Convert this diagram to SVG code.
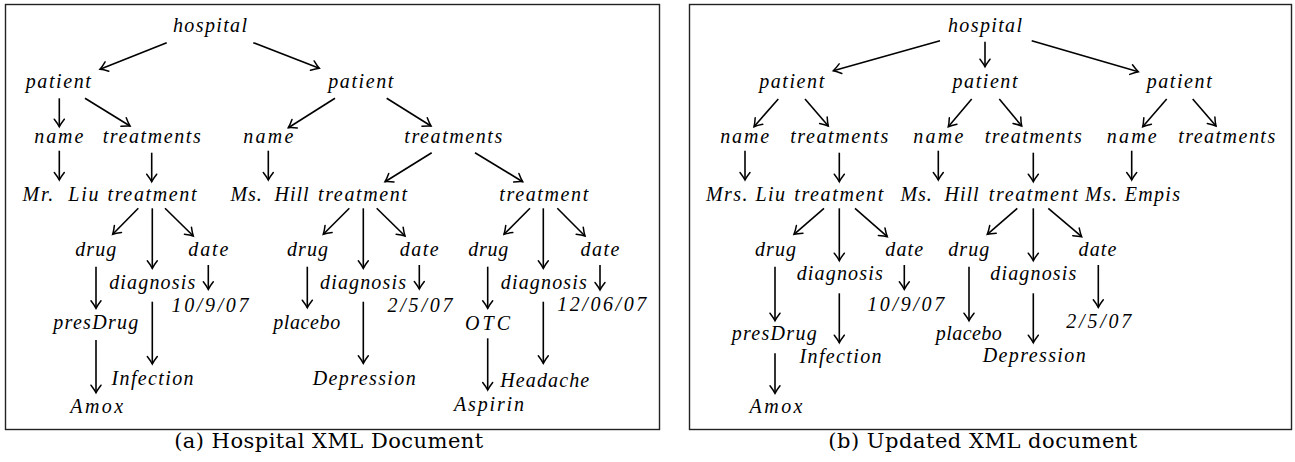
<svg xmlns="http://www.w3.org/2000/svg" width="1295" height="462" viewBox="0 0 1295 462">
<style>
.n{font-family:"Liberation Serif",serif;font-style:italic;font-size:20px;fill:#000;text-anchor:middle}
.cap{font-family:"DejaVu Serif",serif;font-size:21px;fill:#000;text-anchor:middle}
.frame{fill:#fff;stroke:#222;stroke-width:1.4}
#connectors line{stroke:#000;stroke-width:1.6;marker-end:url(#ah)}
</style>
<defs>
<marker id="ah" viewBox="-10 -7 12 14" refX="0" refY="0" markerWidth="12" markerHeight="14" markerUnits="userSpaceOnUse" orient="auto" overflow="visible">
<path d="M-7.5,-5 Q-3,-1.5 0,0 Q-3,1.5 -7.5,5" fill="none" stroke="#000" stroke-width="1.5" stroke-linecap="round"/>
</marker>
</defs>
<rect width="1295" height="462" fill="#fff"/>
<g id="frames">
<rect class="frame" x="5.5" y="4.5" width="654" height="425"/>
<rect class="frame" x="689.5" y="4.5" width="602" height="425"/>
</g>
<g id="captions">
<text class="cap" x="328.7" y="448" textLength="309" lengthAdjust="spacing">(a) Hospital XML Document</text>
<text class="cap" x="982.8" y="448" textLength="309" lengthAdjust="spacing">(b) Updated XML document</text>
</g>
<g id="connectors">
<line x1="166.7" y1="42.7" x2="100" y2="69.3"/>
<line x1="253.3" y1="42.7" x2="319.3" y2="68.3"/>
<line x1="59.3" y1="98.3" x2="59.3" y2="126.7"/>
<line x1="85" y1="98.3" x2="130" y2="126"/>
<line x1="59.3" y1="150.7" x2="59.3" y2="180"/>
<line x1="151.7" y1="152.7" x2="151.7" y2="181.7"/>
<line x1="335" y1="98.3" x2="288.3" y2="127.7"/>
<line x1="386.7" y1="98.3" x2="431" y2="126"/>
<line x1="268.3" y1="150.7" x2="268.3" y2="180"/>
<line x1="431.7" y1="152.7" x2="385" y2="181.7"/>
<line x1="475" y1="152.7" x2="522.7" y2="181.7"/>
<line x1="138.3" y1="208.3" x2="112.7" y2="234.3"/>
<line x1="152.3" y1="208.3" x2="152.3" y2="268.3"/>
<line x1="165" y1="208.3" x2="193.3" y2="236"/>
<line x1="96" y1="266.7" x2="96" y2="308.3"/>
<line x1="208.3" y1="265" x2="208.3" y2="289.3"/>
<line x1="152.3" y1="301.7" x2="152.3" y2="364"/>
<line x1="96" y1="340" x2="96" y2="392.7"/>
<line x1="349.3" y1="208.3" x2="323.3" y2="234.3"/>
<line x1="363.3" y1="208.3" x2="363.3" y2="268.3"/>
<line x1="376.7" y1="208.3" x2="405" y2="236"/>
<line x1="307.3" y1="266.7" x2="307.3" y2="307.7"/>
<line x1="419.3" y1="265" x2="419.3" y2="289"/>
<line x1="363.3" y1="301.7" x2="363.3" y2="363.3"/>
<line x1="530" y1="208.3" x2="504" y2="234.3"/>
<line x1="543.3" y1="208.3" x2="543.3" y2="268.3"/>
<line x1="557.3" y1="208.3" x2="585" y2="236"/>
<line x1="487.7" y1="266.7" x2="487.7" y2="308.3"/>
<line x1="600" y1="265" x2="600" y2="290"/>
<line x1="543.3" y1="301.7" x2="543.3" y2="363.3"/>
<line x1="487.7" y1="338.3" x2="487.7" y2="390"/>
<line x1="940" y1="40.7" x2="833.3" y2="70.7"/>
<line x1="985" y1="41.7" x2="985" y2="66.7"/>
<line x1="1031.7" y1="40.7" x2="1138.3" y2="71.7"/>
<line x1="778.3" y1="99" x2="754" y2="126.7"/>
<line x1="805" y1="99" x2="828.3" y2="126"/>
<line x1="745" y1="150.7" x2="745" y2="180"/>
<line x1="839.3" y1="152.7" x2="839.3" y2="181.7"/>
<line x1="971.7" y1="99" x2="948.3" y2="126.7"/>
<line x1="999.3" y1="99" x2="1021.7" y2="126"/>
<line x1="938.3" y1="150.7" x2="938.3" y2="180"/>
<line x1="1033.3" y1="152.7" x2="1033.3" y2="181.7"/>
<line x1="1166.7" y1="99" x2="1142.7" y2="126.7"/>
<line x1="1192.7" y1="99" x2="1216" y2="126"/>
<line x1="1131.7" y1="150.7" x2="1131.7" y2="180"/>
<line x1="824" y1="208.3" x2="794" y2="234.3"/>
<line x1="839.3" y1="208.3" x2="839.3" y2="260.7"/>
<line x1="855" y1="208.3" x2="887.3" y2="236.7"/>
<line x1="775" y1="266.7" x2="775" y2="320.7"/>
<line x1="904.3" y1="265" x2="904.3" y2="289.3"/>
<line x1="839.3" y1="293.3" x2="839.3" y2="342.7"/>
<line x1="775" y1="353.3" x2="775" y2="393.3"/>
<line x1="1017.3" y1="208.3" x2="987.3" y2="234.3"/>
<line x1="1033.3" y1="208.3" x2="1033.3" y2="260.7"/>
<line x1="1048.3" y1="208.3" x2="1081.7" y2="236.7"/>
<line x1="969" y1="266.7" x2="969" y2="320.7"/>
<line x1="1098.3" y1="265" x2="1098.3" y2="307.3"/>
<line x1="1033.3" y1="293.3" x2="1033.3" y2="342.7"/>
</g>
<g id="a-hospital"><text class="n" x="210" y="32" textLength="74">hospital</text></g>
<g id="a-patient1"><text class="n" x="58.3" y="88" textLength="65">patient</text></g>
<g id="a-patient2"><text class="n" x="360.8" y="88" textLength="65">patient</text></g>
<g id="a-name1"><text class="n" x="58.8" y="143" textLength="49">name</text></g>
<g id="a-treatments1"><text class="n" x="151.7" y="143" textLength="98">treatments</text></g>
<g id="a-name2"><text class="n" x="268.3" y="143" textLength="50">name</text></g>
<g id="a-treatments2"><text class="n" x="453.3" y="143" textLength="98">treatments</text></g>
<g id="a-mrliu"><text class="n" x="60.5" y="201" textLength="76" xml:space="preserve">Mr.  Liu</text></g>
<g id="a-treatment1"><text class="n" x="152" y="201" textLength="89">treatment</text></g>
<g id="a-mshill"><text class="n" x="269.5" y="201" textLength="78" xml:space="preserve">Ms.  Hill</text></g>
<g id="a-treatment2"><text class="n" x="362.5" y="201" textLength="89">treatment</text></g>
<g id="a-treatment3"><text class="n" x="543.8" y="201" textLength="89">treatment</text></g>
<g id="a-drug1"><text class="n" x="95.8" y="256" textLength="41">drug</text></g>
<g id="a-date1"><text class="n" x="208.3" y="256" textLength="40">date</text></g>
<g id="a-diagnosis1"><text class="n" x="152.2" y="289" textLength="86">diagnosis</text></g>
<g id="a-date1v"><text class="n" x="210" y="311.5" textLength="77">10/9/07</text></g>
<g id="a-presdrug"><text class="n" x="95.8" y="329" textLength="85">presDrug</text></g>
<g id="a-infection"><text class="n" x="152.5" y="385" textLength="82">Infection</text></g>
<g id="a-amox"><text class="n" x="96.7" y="412.5" textLength="53">Amox</text></g>
<g id="a-drug2"><text class="n" x="307.5" y="256" textLength="41">drug</text></g>
<g id="a-date2"><text class="n" x="419.2" y="256" textLength="39">date</text></g>
<g id="a-diagnosis2"><text class="n" x="363" y="289" textLength="86">diagnosis</text></g>
<g id="a-date2v"><text class="n" x="420" y="311.5" textLength="65">2/5/07</text></g>
<g id="a-placebo"><text class="n" x="306.7" y="328.5" textLength="67">placebo</text></g>
<g id="a-depression"><text class="n" x="364.2" y="384.5" textLength="103">Depression</text></g>
<g id="a-drug3"><text class="n" x="488.3" y="256" textLength="40">drug</text></g>
<g id="a-date3"><text class="n" x="600" y="256" textLength="39">date</text></g>
<g id="a-diagnosis3"><text class="n" x="543.8" y="289" textLength="86">diagnosis</text></g>
<g id="a-date3v"><text class="n" x="601.7" y="310.5" textLength="89">12/06/07</text></g>
<g id="a-otc"><text class="n" x="487.5" y="330" textLength="45">OTC</text></g>
<g id="a-headache"><text class="n" x="544.7" y="386.5" textLength="89">Headache</text></g>
<g id="a-aspirin"><text class="n" x="489" y="410.5" textLength="70">Aspirin</text></g>
<g id="b-hospital"><text class="n" x="985" y="32" textLength="74">hospital</text></g>
<g id="b-patient1"><text class="n" x="791.7" y="88" textLength="65">patient</text></g>
<g id="b-patient2"><text class="n" x="985" y="88" textLength="65">patient</text></g>
<g id="b-patient3"><text class="n" x="1179.2" y="88" textLength="65">patient</text></g>
<g id="b-name1"><text class="n" x="744.7" y="143" textLength="49">name</text></g>
<g id="b-treatments1"><text class="n" x="839.2" y="143" textLength="98">treatments</text></g>
<g id="b-name2"><text class="n" x="938.3" y="143" textLength="50">name</text></g>
<g id="b-treatments2"><text class="n" x="1033.3" y="143" textLength="97">treatments</text></g>
<g id="b-name3"><text class="n" x="1131.7" y="143" textLength="50">name</text></g>
<g id="b-treatments3"><text class="n" x="1226.7" y="143" textLength="97">treatments</text></g>
<g id="b-mrsliu"><text class="n" x="745.5" y="201" textLength="79">Mrs. Liu</text></g>
<g id="b-treatment1"><text class="n" x="838.7" y="201" textLength="89">treatment</text></g>
<g id="b-mshill"><text class="n" x="939.5" y="201" textLength="78" xml:space="preserve">Ms.  Hill</text></g>
<g id="b-treatment2"><text class="n" x="1033.3" y="201" textLength="89">treatment</text></g>
<g id="b-msempis"><text class="n" x="1132.5" y="201" textLength="95">Ms. Empis</text></g>
<g id="b-drug1"><text class="n" x="775.5" y="256" textLength="41">drug</text></g>
<g id="b-date1"><text class="n" x="904.2" y="256" textLength="38">date</text></g>
<g id="b-diagnosis1"><text class="n" x="839.7" y="280" textLength="86">diagnosis</text></g>
<g id="b-date1v"><text class="n" x="905.7" y="311" textLength="77">10/9/07</text></g>
<g id="b-presdrug"><text class="n" x="774.2" y="340" textLength="85">presDrug</text></g>
<g id="b-infection"><text class="n" x="840.5" y="363.3" textLength="82">Infection</text></g>
<g id="b-amox"><text class="n" x="776" y="413.3" textLength="53">Amox</text></g>
<g id="b-drug2"><text class="n" x="968.8" y="256" textLength="41">drug</text></g>
<g id="b-date2"><text class="n" x="1097.5" y="256" textLength="38">date</text></g>
<g id="b-diagnosis2"><text class="n" x="1033.3" y="280" textLength="86">diagnosis</text></g>
<g id="b-placebo"><text class="n" x="968.8" y="340" textLength="66">placebo</text></g>
<g id="b-depression"><text class="n" x="1034.2" y="361.7" textLength="103">Depression</text></g>
<g id="b-date2v"><text class="n" x="1098.8" y="327.7" textLength="65">2/5/07</text></g>
</svg>
